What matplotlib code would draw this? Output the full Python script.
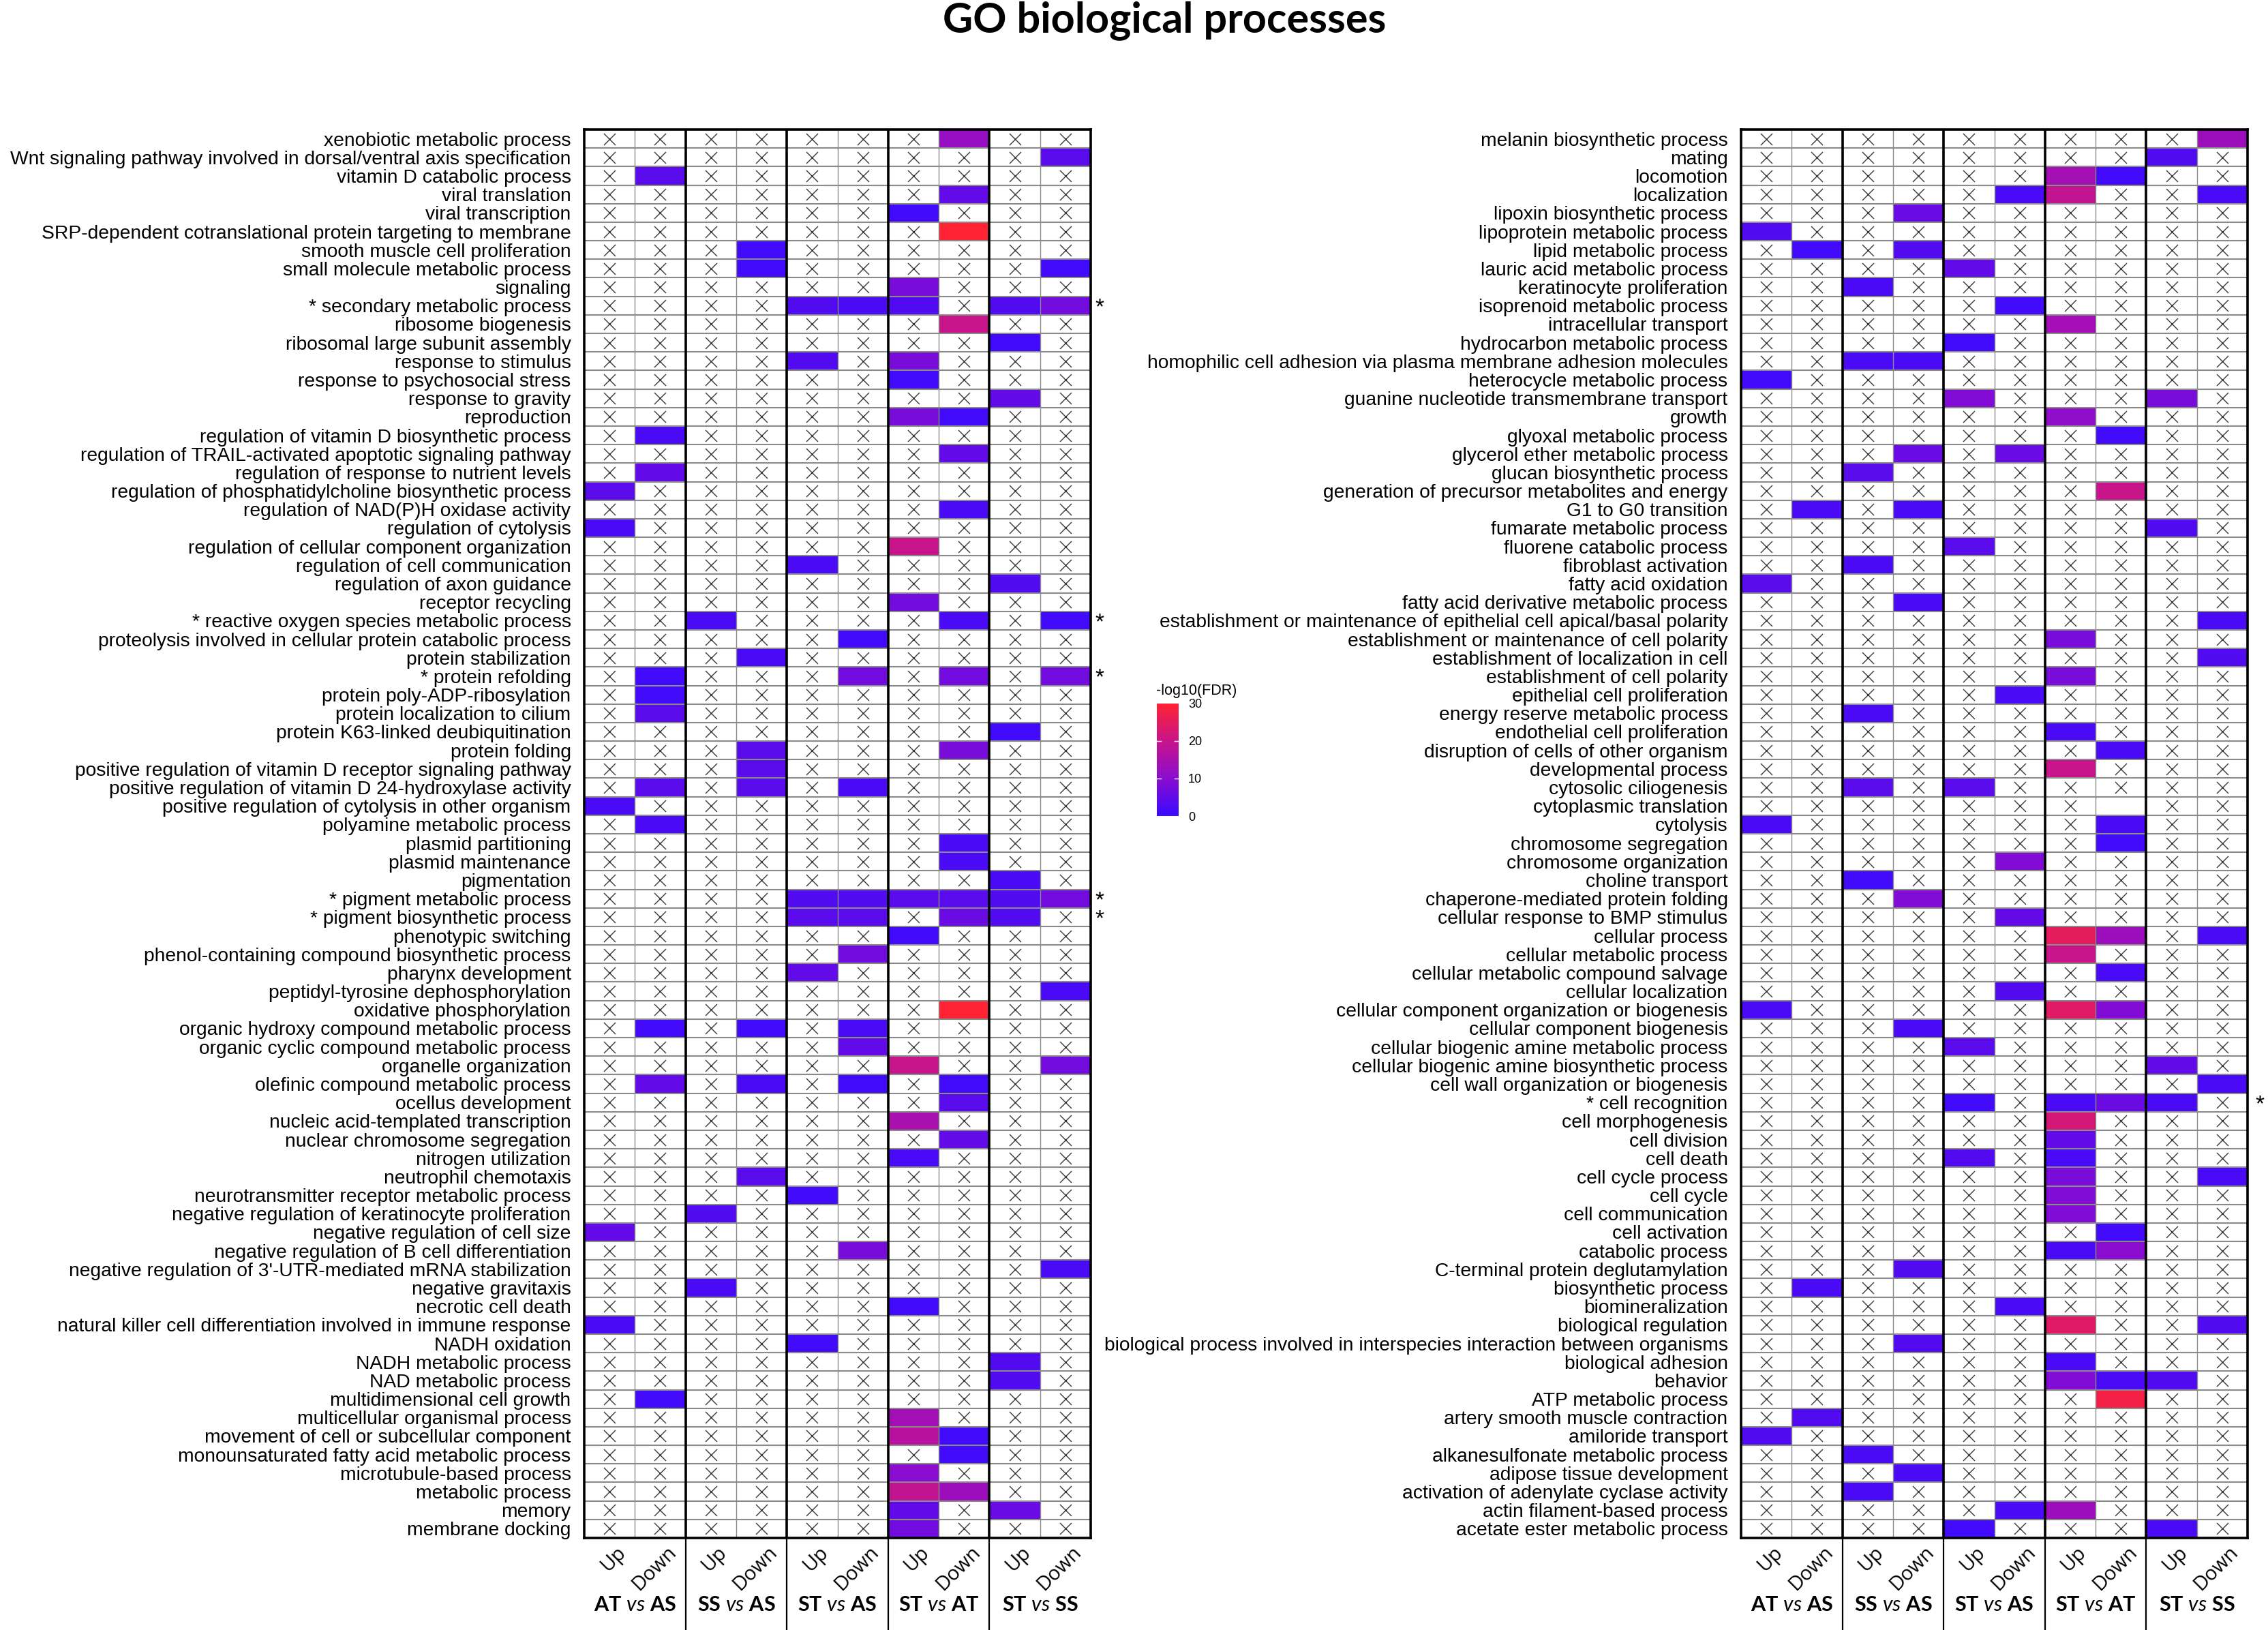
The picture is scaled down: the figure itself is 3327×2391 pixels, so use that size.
import numpy as np
import matplotlib
matplotlib.use("Agg")
import matplotlib.pyplot as plt
import matplotlib.transforms as mtransforms
from matplotlib.colors import LinearSegmentedColormap, Normalize
from matplotlib.cm import ScalarMappable

_ = np.nan  # no significant enrichment -> drawn as an "x"

comparisons = ["AT vs AS", "SS vs AS", "ST vs AS", "ST vs AT", "ST vs SS"]
directions = ["Up", "Down"]

left_terms = [
    "xenobiotic metabolic process",
    "Wnt signaling pathway involved in dorsal/ventral axis specification",
    "vitamin D catabolic process",
    "viral translation",
    "viral transcription",
    "SRP-dependent cotranslational protein targeting to membrane",
    "smooth muscle cell proliferation",
    "small molecule metabolic process",
    "signaling",
    "secondary metabolic process",
    "ribosome biogenesis",
    "ribosomal large subunit assembly",
    "response to stimulus",
    "response to psychosocial stress",
    "response to gravity",
    "reproduction",
    "regulation of vitamin D biosynthetic process",
    "regulation of TRAIL-activated apoptotic signaling pathway",
    "regulation of response to nutrient levels",
    "regulation of phosphatidylcholine biosynthetic process",
    "regulation of NAD(P)H oxidase activity",
    "regulation of cytolysis",
    "regulation of cellular component organization",
    "regulation of cell communication",
    "regulation of axon guidance",
    "receptor recycling",
    "reactive oxygen species metabolic process",
    "proteolysis involved in cellular protein catabolic process",
    "protein stabilization",
    "protein refolding",
    "protein poly-ADP-ribosylation",
    "protein localization to cilium",
    "protein K63-linked deubiquitination",
    "protein folding",
    "positive regulation of vitamin D receptor signaling pathway",
    "positive regulation of vitamin D 24-hydroxylase activity",
    "positive regulation of cytolysis in other organism",
    "polyamine metabolic process",
    "plasmid partitioning",
    "plasmid maintenance",
    "pigmentation",
    "pigment metabolic process",
    "pigment biosynthetic process",
    "phenotypic switching",
    "phenol-containing compound biosynthetic process",
    "pharynx development",
    "peptidyl-tyrosine dephosphorylation",
    "oxidative phosphorylation",
    "organic hydroxy compound metabolic process",
    "organic cyclic compound metabolic process",
    "organelle organization",
    "olefinic compound metabolic process",
    "ocellus development",
    "nucleic acid-templated transcription",
    "nuclear chromosome segregation",
    "nitrogen utilization",
    "neutrophil chemotaxis",
    "neurotransmitter receptor metabolic process",
    "negative regulation of keratinocyte proliferation",
    "negative regulation of cell size",
    "negative regulation of B cell differentiation",
    "negative regulation of 3'-UTR-mediated mRNA stabilization",
    "negative gravitaxis",
    "necrotic cell death",
    "natural killer cell differentiation involved in immune response",
    "NADH oxidation",
    "NADH metabolic process",
    "NAD metabolic process",
    "multidimensional cell growth",
    "multicellular organismal process",
    "movement of cell or subcellular component",
    "monounsaturated fatty acid metabolic process",
    "microtubule-based process",
    "metabolic process",
    "memory",
    "membrane docking",
]

# -log10(FDR); columns: Up/Down for each comparison
left_fdr = [
    [_, _, _, _, _, _, _, 12, _, _],
    [_, _, _, _, _, _, _, _, _, 4],
    [_, 4, _, _, _, _, _, _, _, _],
    [_, _, _, _, _, _, _, 5, _, _],
    [_, _, _, _, _, _, 1, _, _, _],
    [_, _, _, _, _, _, _, 30, _, _],
    [_, _, _, 1, _, _, _, _, _, _],
    [_, _, _, 1, _, _, _, _, _, 1],
    [_, _, _, _, _, _, 8, _, _, _],
    [_, _, _, _, 3, 2, 3, _, 3, 7],
    [_, _, _, _, _, _, _, 20, _, _],
    [_, _, _, _, _, _, _, _, 1, _],
    [_, _, _, _, 3, _, 8, _, _, _],
    [_, _, _, _, _, _, 1, _, _, _],
    [_, _, _, _, _, _, _, _, 5, _],
    [_, _, _, _, _, _, 8, 1, _, _],
    [_, 2, _, _, _, _, _, _, _, _],
    [_, _, _, _, _, _, _, 5, _, _],
    [_, 5, _, _, _, _, _, _, _, _],
    [4, _, _, _, _, _, _, _, _, _],
    [_, _, _, _, _, _, _, 2, _, _],
    [2, _, _, _, _, _, _, _, _, _],
    [_, _, _, _, _, _, 20, _, _, _],
    [_, _, _, _, 2, _, _, _, _, _],
    [_, _, _, _, _, _, _, _, 3, _],
    [_, _, _, _, _, _, 7, _, _, _],
    [_, _, 2, _, _, _, _, 2, _, 1],
    [_, _, _, _, _, 1, _, _, _, _],
    [_, _, _, 2, _, _, _, _, _, _],
    [_, 1, _, _, _, 7, _, 7, _, 7],
    [_, 1, _, _, _, _, _, _, _, _],
    [_, 4, _, _, _, _, _, _, _, _],
    [_, _, _, _, _, _, _, _, 1, _],
    [_, _, _, 4, _, _, _, 8, _, _],
    [_, _, _, 4, _, _, _, _, _, _],
    [_, 4, _, 4, _, 2, _, _, _, _],
    [2, _, _, _, _, _, _, _, _, _],
    [_, 2, _, _, _, _, _, _, _, _],
    [_, _, _, _, _, _, _, 2, _, _],
    [_, _, _, _, _, _, _, 2, _, _],
    [_, _, _, _, _, _, _, _, 2, _],
    [_, _, _, _, 3, 3, 4, 4, 3, 7],
    [_, _, _, _, 4, 4, _, 6, 3, _],
    [_, _, _, _, _, _, 1, _, _, _],
    [_, _, _, _, _, 7, _, _, _, _],
    [_, _, _, _, 5, _, _, _, _, _],
    [_, _, _, _, _, _, _, _, _, 2],
    [_, _, _, _, _, _, _, 30, _, _],
    [_, 1, _, 1, _, 2, _, _, _, _],
    [_, _, _, _, _, 5, _, _, _, _],
    [_, _, _, _, _, _, 20, _, _, 7],
    [_, 5, _, 2, _, 1, _, 1, _, _],
    [_, _, _, _, _, _, _, 4, _, _],
    [_, _, _, _, _, _, 15, _, _, _],
    [_, _, _, _, _, _, _, 5, _, _],
    [_, _, _, _, _, _, 2, _, _, _],
    [_, _, _, 4, _, _, _, _, _, _],
    [_, _, _, _, 1, _, _, _, _, _],
    [_, _, 3, _, _, _, _, _, _, _],
    [5, _, _, _, _, _, _, _, _, _],
    [_, _, _, _, _, 8, _, _, _, _],
    [_, _, _, _, _, _, _, _, _, 2],
    [_, _, 2, _, _, _, _, _, _, _],
    [_, _, _, _, _, _, 1, _, _, _],
    [2, _, _, _, _, _, _, _, _, _],
    [_, _, _, _, 1, _, _, _, _, _],
    [_, _, _, _, _, _, _, _, 3, _],
    [_, _, _, _, _, _, _, _, 3, _],
    [_, 1, _, _, _, _, _, _, _, _],
    [_, _, _, _, _, _, 14, _, _, _],
    [_, _, _, _, _, _, 17, 1, _, _],
    [_, _, _, _, _, _, _, 1, _, _],
    [_, _, _, _, _, _, 10, _, _, _],
    [_, _, _, _, _, _, 19, 13, _, _],
    [_, _, _, _, _, _, 5, _, 6, _],
    [_, _, _, _, _, _, 7, _, _, _],
]

left_starred = [
    "secondary metabolic process",
    "reactive oxygen species metabolic process",
    "protein refolding",
    "pigment metabolic process",
    "pigment biosynthetic process",
]

right_terms = [
    "melanin biosynthetic process",
    "mating",
    "locomotion",
    "localization",
    "lipoxin biosynthetic process",
    "lipoprotein metabolic process",
    "lipid metabolic process",
    "lauric acid metabolic process",
    "keratinocyte proliferation",
    "isoprenoid metabolic process",
    "intracellular transport",
    "hydrocarbon metabolic process",
    "homophilic cell adhesion via plasma membrane adhesion molecules",
    "heterocycle metabolic process",
    "guanine nucleotide transmembrane transport",
    "growth",
    "glyoxal metabolic process",
    "glycerol ether metabolic process",
    "glucan biosynthetic process",
    "generation of precursor metabolites and energy",
    "G1 to G0 transition",
    "fumarate metabolic process",
    "fluorene catabolic process",
    "fibroblast activation",
    "fatty acid oxidation",
    "fatty acid derivative metabolic process",
    "establishment or maintenance of epithelial cell apical/basal polarity",
    "establishment or maintenance of cell polarity",
    "establishment of localization in cell",
    "establishment of cell polarity",
    "epithelial cell proliferation",
    "energy reserve metabolic process",
    "endothelial cell proliferation",
    "disruption of cells of other organism",
    "developmental process",
    "cytosolic ciliogenesis",
    "cytoplasmic translation",
    "cytolysis",
    "chromosome segregation",
    "chromosome organization",
    "choline transport",
    "chaperone-mediated protein folding",
    "cellular response to BMP stimulus",
    "cellular process",
    "cellular metabolic process",
    "cellular metabolic compound salvage",
    "cellular localization",
    "cellular component organization or biogenesis",
    "cellular component biogenesis",
    "cellular biogenic amine metabolic process",
    "cellular biogenic amine biosynthetic process",
    "cell wall organization or biogenesis",
    "cell recognition",
    "cell morphogenesis",
    "cell division",
    "cell death",
    "cell cycle process",
    "cell cycle",
    "cell communication",
    "cell activation",
    "catabolic process",
    "C-terminal protein deglutamylation",
    "biosynthetic process",
    "biomineralization",
    "biological regulation",
    "biological process involved in interspecies interaction between organisms",
    "biological adhesion",
    "behavior",
    "ATP metabolic process",
    "artery smooth muscle contraction",
    "amiloride transport",
    "alkanesulfonate metabolic process",
    "adipose tissue development",
    "activation of adenylate cyclase activity",
    "actin filament-based process",
    "acetate ester metabolic process",
]

right_fdr = [
    [_, _, _, _, _, _, _, _, _, 13],
    [_, _, _, _, _, _, _, _, 3, _],
    [_, _, _, _, _, _, 14, 1, _, _],
    [_, _, _, _, _, 2, 19, _, _, 2],
    [_, _, _, 6, _, _, _, _, _, _],
    [3, _, _, _, _, _, _, _, _, _],
    [_, 1, _, 3, _, _, _, _, _, _],
    [_, _, _, _, 5, _, _, _, _, _],
    [_, _, 2, _, _, _, _, _, _, _],
    [_, _, _, _, _, 1, _, _, _, _],
    [_, _, _, _, _, _, 14, _, _, _],
    [_, _, _, _, 1, _, _, _, _, _],
    [_, _, 2, 2, _, _, _, _, _, _],
    [1, _, _, _, _, _, _, _, _, _],
    [_, _, _, _, 9, _, _, _, 8, _],
    [_, _, _, _, _, _, 11, _, _, _],
    [_, _, _, _, _, _, _, 1, _, _],
    [_, _, _, 6, _, 6, _, _, _, _],
    [_, _, 4, _, _, _, _, _, _, _],
    [_, _, _, _, _, _, _, 20, _, _],
    [_, 2, _, 2, _, _, _, _, _, _],
    [_, _, _, _, _, _, _, _, 3, _],
    [_, _, _, _, 4, _, _, _, _, _],
    [_, _, 2, _, _, _, _, _, _, _],
    [4, _, _, _, _, _, _, _, _, _],
    [_, _, _, 2, _, _, _, _, _, _],
    [_, _, _, _, _, _, _, _, _, 2],
    [_, _, _, _, _, _, 8, _, _, _],
    [_, _, _, _, _, _, _, _, _, 3],
    [_, _, _, _, _, _, 8, _, _, _],
    [_, _, _, _, _, 2, _, _, _, _],
    [_, _, 2, _, _, _, _, _, _, _],
    [_, _, _, _, _, _, 2, _, _, _],
    [_, _, _, _, _, _, _, 2, _, _],
    [_, _, _, _, _, _, 20, _, _, _],
    [_, _, 4, _, 4, _, _, _, _, _],
    [_, _, _, _, _, _, _, _, _, _],
    [2, _, _, _, _, _, _, 2, _, _],
    [_, _, _, _, _, _, _, 1, _, _],
    [_, _, _, _, _, 9, _, _, _, _],
    [_, _, 1, _, _, _, _, _, _, _],
    [_, _, _, 9, _, _, _, _, _, _],
    [_, _, _, _, _, 5, _, _, _, _],
    [_, _, _, _, _, _, 25, 13, _, 2],
    [_, _, _, _, _, _, 20, _, _, _],
    [_, _, _, _, _, _, _, 2, _, _],
    [_, _, _, _, _, 3, _, _, _, _],
    [2, _, _, _, _, _, 24, 9, _, _],
    [_, _, _, 2, _, _, _, _, _, _],
    [_, _, _, _, 4, _, _, _, _, _],
    [_, _, _, _, _, _, _, _, 5, _],
    [_, _, _, _, _, _, _, _, _, 2],
    [_, _, _, _, 1, _, 2, 6, 2, _],
    [_, _, _, _, _, _, 22, _, _, _],
    [_, _, _, _, _, _, 5, _, _, _],
    [_, _, _, _, 3, _, 2, _, _, _],
    [_, _, _, _, _, _, 8, _, _, 2],
    [_, _, _, _, _, _, 9, _, _, _],
    [_, _, _, _, _, _, 9, _, _, _],
    [_, _, _, _, _, _, _, 1, _, _],
    [_, _, _, _, _, _, 2, 10, _, _],
    [_, _, _, 3, _, _, _, _, _, _],
    [_, 2, _, _, _, _, _, _, _, _],
    [_, _, _, _, _, 2, _, _, _, _],
    [_, _, _, _, _, _, 24, _, _, 3],
    [_, _, _, 3, _, _, _, _, _, _],
    [_, _, _, _, _, _, 2, _, _, _],
    [_, _, _, _, _, _, 9, 2, 3, _],
    [_, _, _, _, _, _, _, 28, _, _],
    [_, 3, _, _, _, _, _, _, _, _],
    [3, _, _, _, _, _, _, _, _, _],
    [_, _, 2, _, _, _, _, _, _, _],
    [_, _, _, 2, _, _, _, _, _, _],
    [_, _, 2, _, _, _, _, _, _, _],
    [_, _, _, _, _, 2, 13, _, _, _],
    [_, _, _, _, 1, _, _, _, 2, _],
]

right_starred = ["cell recognition"]
# cell left empty (neither coloured nor crossed) in the original
right_blank = [("cytoplasmic translation", 7)]

legend_ticks = [0, 10, 20, 30]

# ---- style ----
plt.rcParams["font.family"] = ["Liberation Sans", "DejaVu Sans"]
plt.rcParams["mathtext.fontset"] = "custom"
plt.rcParams["mathtext.bf"] = "Lato:bold"
plt.rcParams["mathtext.it"] = "Lato:italic"
plt.rcParams["mathtext.rm"] = "Lato"

cmap = LinearSegmentedColormap.from_list(
    "fdr", [(0.0, "#3a0aff"), (1 / 3, "#8a0cd0"), (2 / 3, "#c8148a"), (1.0, "#ff2232")])
norm = Normalize(0, 30)

W, H = 3327, 2391
fig = plt.figure(figsize=(W / 100, H / 100), dpi=100)


def px_axes(x0, y0, x1, y1):
    return fig.add_axes([x0 / W, 1 - y1 / H, (x1 - x0) / W, (y1 - y0) / H])


def draw_panel(ax, terms, fdr, starred, blanks, star_dx):
    vals = np.array(fdr, dtype=float)
    n = len(terms)
    ax.pcolormesh(np.arange(11), np.arange(n + 1), np.ma.masked_invalid(vals),
                  cmap=cmap, norm=norm, shading="flat")

    rows, cols = np.where(np.isnan(vals))
    pts = [(c + 0.5, r + 0.5) for r, c in zip(rows, cols) if (terms[r], c) not in blanks]
    ax.scatter([p[0] for p in pts], [p[1] for p in pts], marker="x", s=150,
               c="#383838", linewidths=1.0, zorder=3)

    ax.set_xlim(0, 10)
    ax.set_ylim(n, 0)
    ax.hlines(np.arange(1, n), 0, 10, color="#8a8a8a", lw=1.5, zorder=2)
    ax.vlines(np.arange(1, 10, 2), 0, n, color="#8a8a8a", lw=1.0, zorder=2)
    ax.vlines([2, 4, 6, 8], 0, n, color="black", lw=2.6, zorder=4)
    for s in ax.spines.values():
        s.set_linewidth(2.6)
        s.set_zorder(5)

    labels = [("* " + t) if t in starred else t for t in terms]
    ax.set_yticks(np.arange(n) + 0.5)
    ax.set_yticklabels(labels, fontsize=20.3)
    ax.tick_params(axis="y", length=0, pad=14)
    ax.set_xticks([])

    # asterisks to the right of the grid
    for t in starred:
        r = terms.index(t)
        ax.text(10 + star_dx, r + 0.62, "*", fontsize=24, ha="center", va="center", clip_on=False)

    # column labels
    for c in range(10):
        ax.text(c + 0.62, n + 0.25, directions[c % 2], rotation=45, ha="right", va="top",
                rotation_mode="anchor", fontsize=21, family="Open Sans", clip_on=False)
    for g, comp in enumerate(comparisons):
        a, b = comp.split(" vs ")
        ax.text(2 * g + 1, n + 3.6, r"$\mathbf{%s}$ $\mathit{vs}$ $\mathbf{%s}$" % (a, b),
                ha="center", va="center", fontsize=22, family="Lato", clip_on=False)
    # separators below the grid
    trans = mtransforms.blended_transform_factory(ax.transData, ax.transAxes)
    for x in [2, 4, 6, 8]:
        ax.plot([x, x], [0, -0.07], color="black", lw=1.6, transform=trans, clip_on=False)


ax_left = px_axes(857, 190, 1600, 2256)
draw_panel(ax_left, left_terms, left_fdr, left_starred, [], 0.17)

ax_right = px_axes(2554, 190, 3297, 2256)
draw_panel(ax_right, right_terms, right_fdr, right_starred, right_blank, 0.24)

# colour legend
cax = px_axes(1697, 1032, 1729, 1197)
cb = fig.colorbar(ScalarMappable(norm=norm, cmap=cmap), cax=cax)
cb.set_ticks(legend_ticks)
cb.outline.set_visible(False)
cax.tick_params(length=0, labelsize=13, pad=10)
for v in legend_ticks[1:-1]:
    cax.plot([0, 0.2], [v, v], color="white", lw=1.0)
    cax.plot([0.8, 1], [v, v], color="white", lw=1.0)
fig.text(1696 / W, 1 - 1013 / H, "-log10(FDR)", fontsize=15.5, ha="left", va="center")

fig.text(1708 / W, 1 - 30 / H, "GO biological processes", fontsize=44, fontweight="bold",
         family="Lato", ha="center", va="center")

fig.savefig("out.png", dpi=100)
